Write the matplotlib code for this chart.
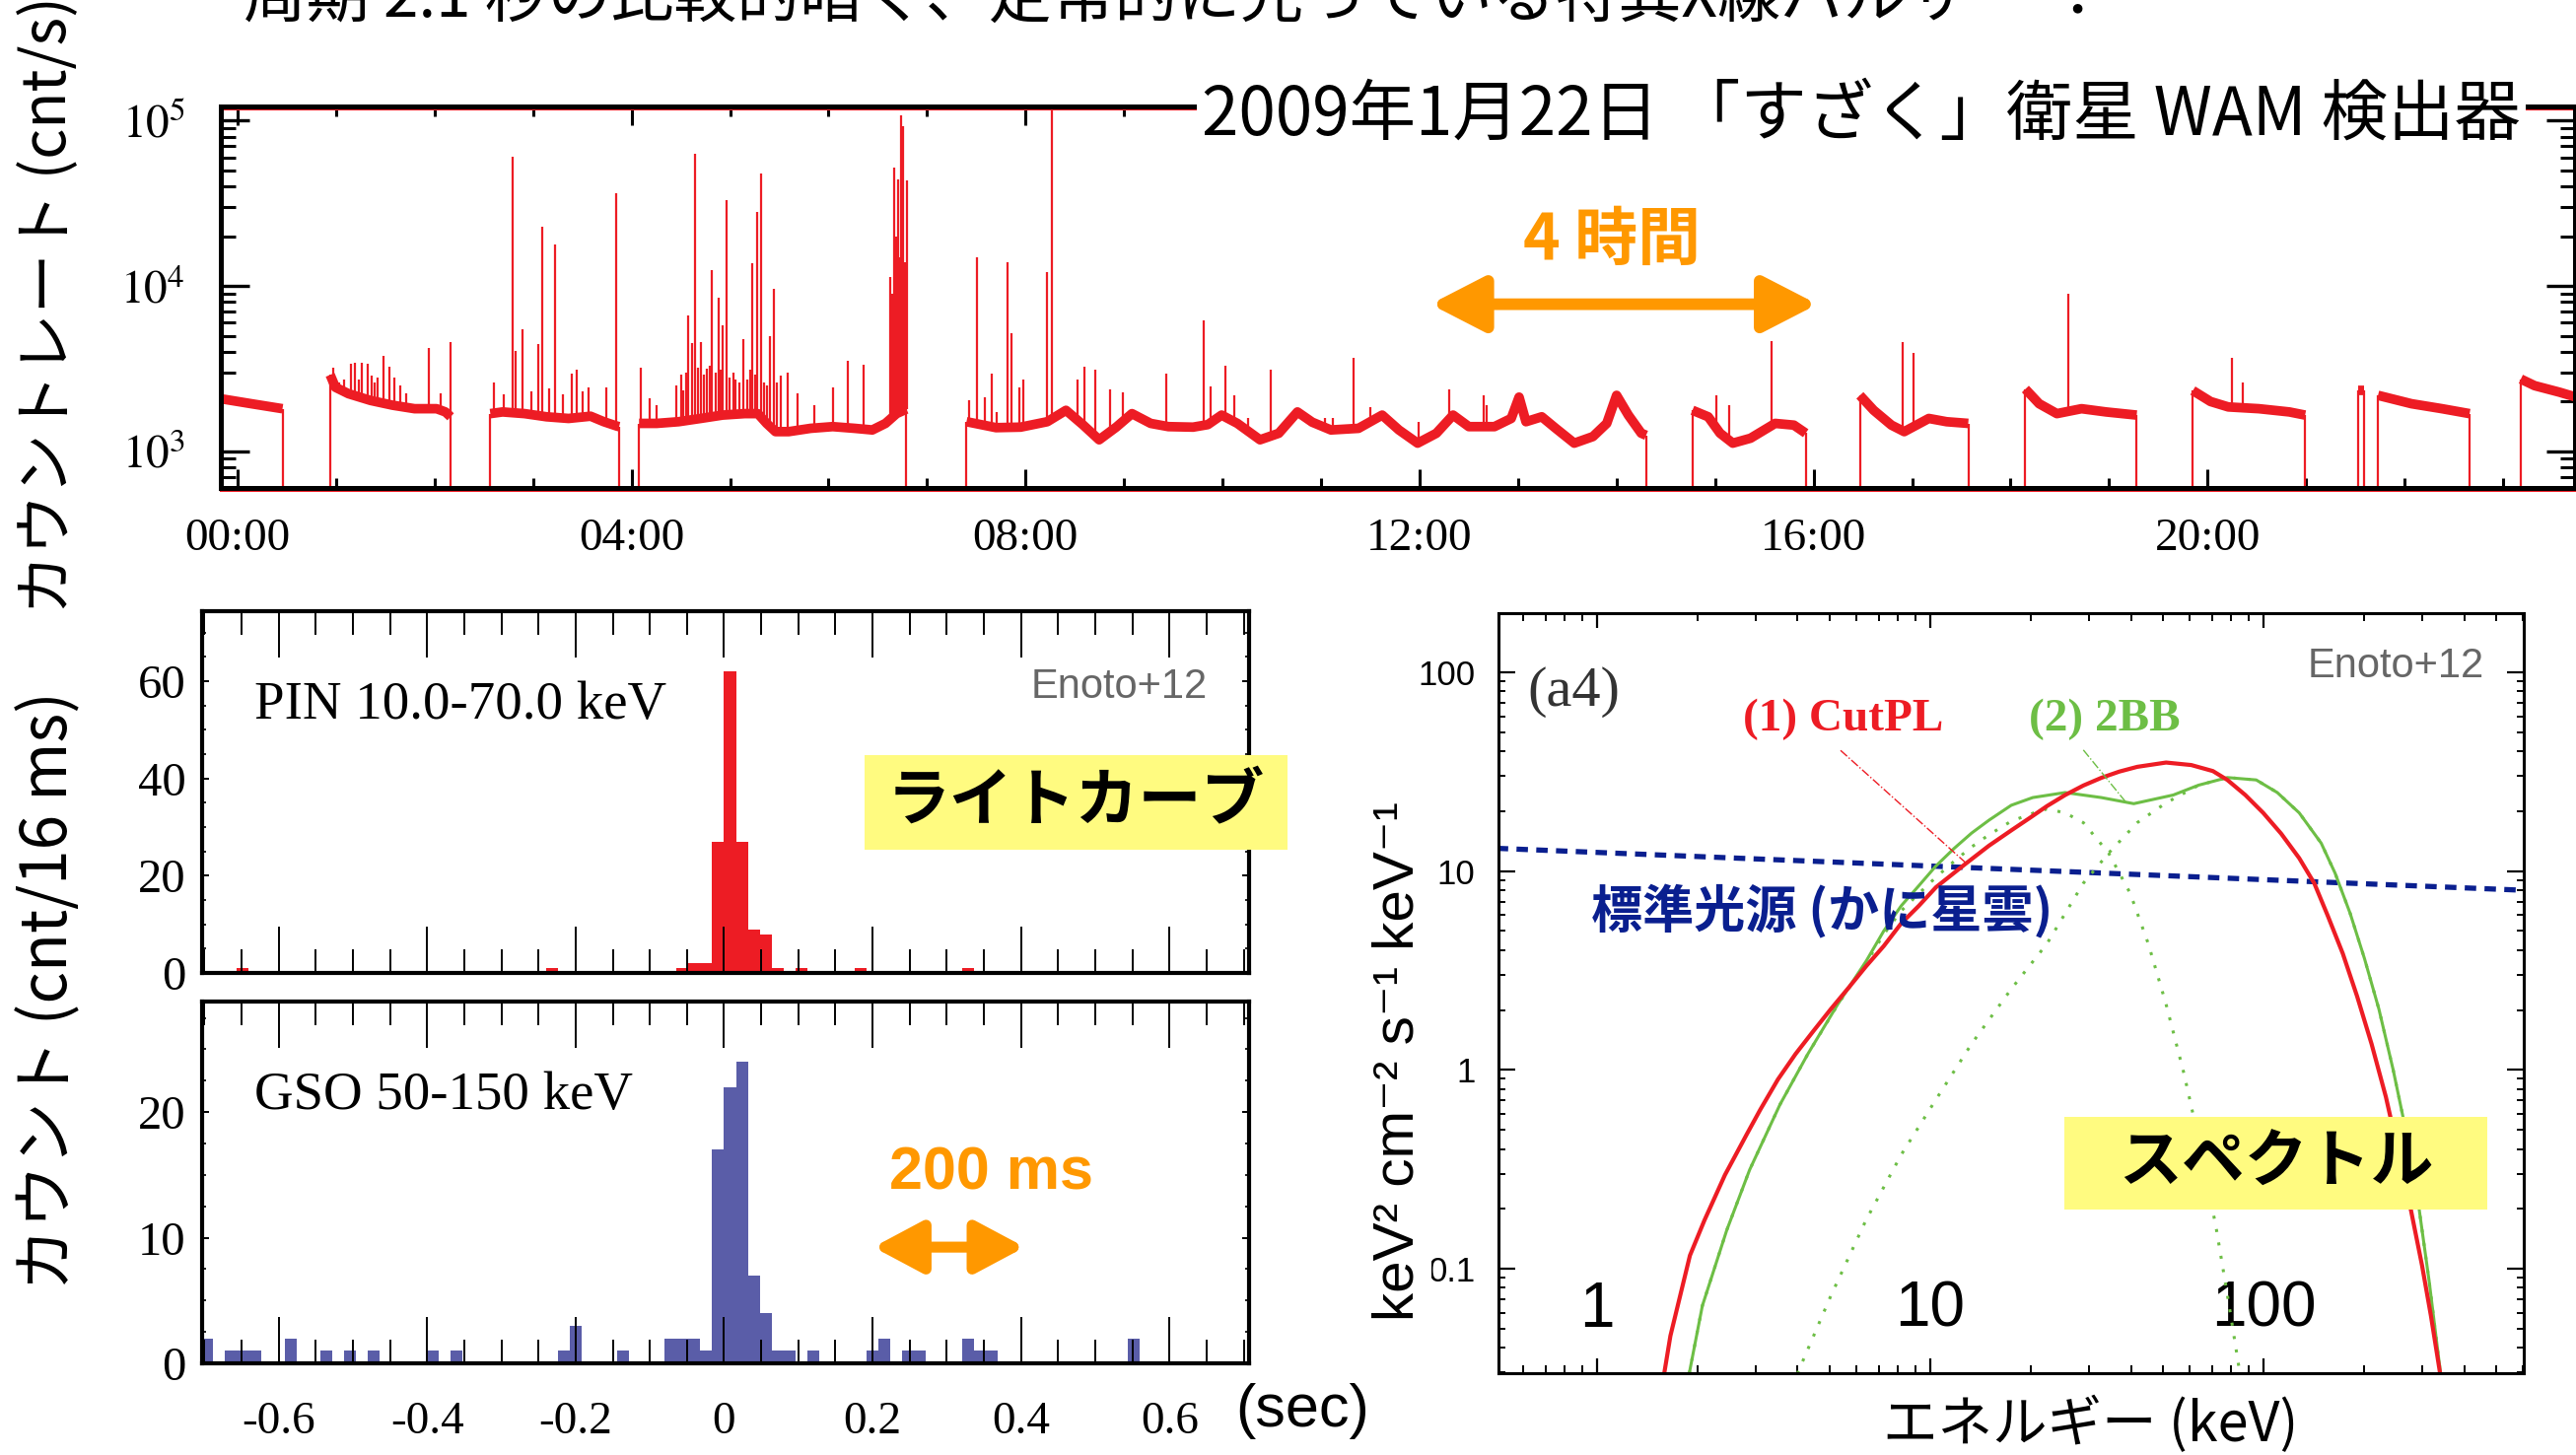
import matplotlib
matplotlib.use("Agg")
import matplotlib.pyplot as plt
import numpy as np
from matplotlib.patches import Rectangle
from matplotlib.ticker import FixedLocator, FuncFormatter, MultipleLocator, NullFormatter

# ---------------------------------------------------------------------------
# Fonts / colours
# ---------------------------------------------------------------------------
plt.rcParams["mathtext.fontset"] = "stix"
plt.rcParams["font.family"] = ["Liberation Serif", "DejaVu Serif"]

JP = ["Noto Sans CJK JP", "DejaVu Sans"]
SANS = ["Liberation Sans", "DejaVu Sans"]
SERIF = ["Liberation Serif", "DejaVu Serif"]

RED = "#ED1C24"
BLUE = "#5A5DA8"
GREEN = "#6DBE45"
NAVY = "#0A1F8F"
ORANGE = "#FF9800"
YELLOW = "#FFFB80"
GRAY = "#666666"

W, H = 2613, 1476

# ---------------------------------------------------------------------------
# WAM light curve, 2009-01-22 (hours since 00:00 UT)
# ---------------------------------------------------------------------------
seg_start = [-0.17, 0.94, 2.566, 4.076, 7.40, 14.77, 16.47, 18.15, 19.85, 21.53, 21.73, 23.18]
seg_end = [0.456, 2.163, 3.874, 6.79, 14.30, 15.92, 17.57, 19.28, 20.99, 21.59, 22.66, 23.74]

base_t = np.array([
    -0.17, 0.14, 0.456,
    0.94, 0.993, 1.126, 1.35, 1.574, 1.797, 2.02, 2.11, 2.163,
    2.566, 2.69, 2.914, 3.137, 3.36, 3.584, 3.718, 3.852, 3.874,
    4.076, 4.255, 4.478, 4.701, 4.925, 5.148, 5.282, 5.371, 5.461, 5.595, 5.818,
    6.042, 6.265, 6.444, 6.578, 6.69, 6.79,
    7.40, 7.70, 7.95, 8.22, 8.41, 8.58, 8.747, 8.92, 9.08, 9.27, 9.45, 9.70, 9.85,
    9.99, 10.15, 10.38, 10.57, 10.76, 10.91, 11.10, 11.38, 11.62, 11.79, 11.98,
    12.17, 12.34, 12.50, 12.76, 12.93, 13.01, 13.08, 13.24, 13.38, 13.57, 13.76,
    13.90, 14.00, 14.12, 14.25, 14.30,
    14.77, 14.93, 15.05, 15.18, 15.36, 15.61, 15.80, 15.92,
    16.47, 16.61, 16.79, 16.92, 17.17, 17.35, 17.57,
    18.15, 18.29, 18.47, 18.72, 18.97, 19.28,
    19.85, 20.03, 20.21, 20.52, 20.83, 20.99,
    21.53, 21.59,
    21.73, 22.07, 22.38, 22.66,
    23.18, 23.32, 23.57, 23.74,
])
base_rate = np.array([
    2080, 1940, 1810,
    2900, 2440, 2230, 2030, 1900, 1810, 1810, 1730, 1617,
    1690, 1730, 1690, 1617, 1580, 1630, 1510, 1420, 1410,
    1475, 1475, 1510, 1580, 1656, 1690, 1690, 1475, 1315, 1315, 1377,
    1410, 1377, 1346, 1475, 1690, 1800,
    1510, 1390, 1400, 1510, 1770, 1450, 1174, 1400, 1690, 1475, 1410, 1400, 1450,
    1656, 1475, 1174, 1285, 1730, 1500, 1346, 1377, 1656, 1346, 1120,
    1285, 1656, 1410, 1410, 1580, 2127, 1510, 1617, 1380, 1120, 1228,
    1475, 2180, 1653, 1287, 1250,
    1771, 1617, 1287, 1120, 1200, 1475, 1440, 1287,
    2180, 1771, 1440, 1315, 1580, 1510, 1475,
    2380, 1940, 1690, 1810, 1730, 1656,
    2330, 2000, 1855, 1810, 1730, 1656,
    2330, 2330,
    2180, 1940, 1810, 1690,
    2735, 2495, 2280, 2127,
])

spike_t = [
    0.970, 1.03, 1.08, 1.149, 1.193, 1.23, 1.261, 1.319, 1.359, 1.39, 1.421, 1.484,
    1.538, 1.596, 1.65, 1.716, 1.944, 2.065, 2.163,
    2.601, 2.70, 2.789, 2.824, 2.896, 2.98, 3.048, 3.097, 3.16, 3.222, 3.30, 3.397,
    3.446, 3.50, 3.562, 3.741, 3.843,
    4.089, 4.188, 4.255, 4.45, 4.50, 4.523, 4.55, 4.577, 4.612, 4.648, 4.67, 4.701,
    4.73, 4.768, 4.79, 4.818, 4.85, 4.88, 4.90, 4.925, 4.961, 4.99, 5.03, 5.059,
    5.09, 5.139, 5.17, 5.20, 5.229, 5.25, 5.273, 5.31, 5.34, 5.37, 5.408, 5.44,
    5.47, 5.515, 5.586, 5.684, 5.854, 6.05, 6.198, 6.355, 6.623, 6.645, 6.668,
    6.69, 6.704, 6.72, 6.735, 6.75, 6.76, 6.775, 6.794,
    7.43, 7.502, 7.588, 7.655, 7.708, 7.814, 7.861, 7.933, 7.981, 8.22, 8.268,
    8.531, 8.594, 8.709, 8.853, 8.987, 9.431, 9.81, 9.877, 10.03, 10.12, 10.26,
    10.49, 11.04, 11.12, 11.33, 11.50, 11.99, 12.30, 12.65, 12.68,
    15.01, 15.14, 15.57,
    16.90, 17.01,
    18.585,
    20.25, 20.36,
]
spike_peak = [
    3190, 2600, 2700, 3390, 3435, 2700, 3435, 3390, 2865, 2600, 2800, 3770,
    3240, 2800, 2500, 2230, 4230, 2230, 4580,
    2610, 2200, 60500, 4040, 5510, 2300, 4470, 22700, 2400, 17900, 2200, 2960,
    3100, 2300, 2440, 2440, 36200,
    3210, 2080, 1900, 2500, 2900, 2330, 3000, 6610, 4530, 63300, 3200, 4580,
    2900, 3140, 3300, 12560, 3000, 8470, 3100, 5820, 33200, 2800, 3000, 2735,
    2600, 4800, 2700, 3100, 13700, 2900, 28200, 48200, 2600, 2500, 4950, 9550,
    2600, 2865, 3000, 2230, 1900, 2440, 3520, 3330, 11400, 9000, 52200,
    20000, 44000, 15000, 107700, 30000, 92700, 14000, 43600,
    2030, 14900, 2110, 2960, 1730, 13900, 5190, 2440, 2710, 12100, 118000,
    2700, 3240, 3100, 2380, 2280, 2960, 6210, 2460, 3280, 2180, 1580,
    3130, 1580, 1580, 3680, 1855, 1510, 2380, 2180, 1900,
    2180, 1900, 4630,
    4590, 3950,
    8920,
    3680, 2600,
]

hour_ticks = [0, 4, 8, 12, 16, 20]
hour_labels = ["00:00", "04:00", "08:00", "12:00", "16:00", "20:00"]

# ---------------------------------------------------------------------------
# Burst light curves (16 ms bins, index k -> [k*BIN, (k+1)*BIN) seconds)
# ---------------------------------------------------------------------------
BIN = 0.016
pin_bin = [-41, -15, -4, -3, -2, -1, 0, 1, 2, 3, 4, 6, 11, 20]
pin_cnt = [1, 1, 1, 2, 2, 27, 62, 27, 9, 8, 1, 1, 1, 1]

gso_bin = [-44, -42, -41, -40, -37, -34, -32, -30, -25, -23, -14, -13, -9,
           -5, -4, -3, -2, -1, 0, 1, 2, 3, 4, 5, 7, 12, 13, 15, 16, 20, 21, 22, 34]
gso_cnt = [2, 1, 1, 1, 2, 1, 1, 1, 1, 1, 1, 3, 1,
           2, 2, 2, 1, 17, 22, 24, 7, 4, 1, 1, 1, 1, 2, 1, 1, 2, 1, 1, 2]

# ---------------------------------------------------------------------------
# Burst spectrum models, keV^2 cm^-2 s^-1 keV^-1
# ---------------------------------------------------------------------------
cutpl_e = [1.59, 1.66, 1.90, 2.10, 2.42, 2.81, 3.09, 3.49, 3.94, 4.45, 5.03, 5.68,
           6.42, 7.25, 8.18, 9.24, 10.4, 12.7, 15.0, 17.5, 20.0, 22.4, 25.4, 28.8,
           32.6, 36.9, 41.8, 51.0, 60.7, 70.5, 77.9, 88.2, 99.8, 113, 128, 142,
           156, 173, 191, 211, 233, 257, 277, 299, 318, 339]
cutpl_f = [0.0296, 0.0459, 0.1165, 0.175, 0.296, 0.472, 0.631, 0.895, 1.20, 1.56,
           2.02, 2.58, 3.32, 4.19, 5.45, 6.68, 8.28, 10.8, 13.4, 16.0, 18.6, 21.2,
           24.1, 26.9, 29.4, 31.6, 33.4, 35.1, 34.1, 31.8, 28.7, 24.1, 19.6, 15.4,
           11.6, 8.68, 5.94, 3.84, 2.34, 1.35, 0.730, 0.352, 0.197, 0.104, 0.058,
           0.0296]

bb2_tot_e = [1.89, 2.07, 2.45, 2.87, 3.54, 4.29, 5.28, 6.42, 7.25, 8.18, 9.24,
             10.4, 11.8, 13.3, 15.0, 17.5, 20.3, 25.4, 32.6, 40.8, 53.6, 63.8,
             77.9, 95.1, 110, 128, 149, 164, 182, 201, 222, 245, 271, 292, 314, 340]
bb2_tot_f = [0.0296, 0.065, 0.156, 0.314, 0.669, 1.20, 2.14, 3.52, 4.99, 6.68,
             8.43, 10.6, 13.0, 15.5, 18.0, 21.4, 23.4, 24.8, 23.4, 21.8, 24.1,
             27.0, 29.5, 28.7, 24.8, 19.6, 13.8, 9.75, 6.12, 3.62, 2.02, 1.0,
             0.445, 0.209, 0.087, 0.0296]

bb_low_e = [1.89, 2.07, 2.45, 2.87, 3.54, 4.29, 5.28, 6.42, 7.25, 8.18, 9.24, 10.4,
            11.8, 13.3, 15.0, 17.5, 20.3, 22.4, 25.4, 28.8, 34.3, 39.8, 45.1, 51.0,
            57.8, 65.4, 72.3, 78.9, 85.0]
bb_low_f = [0.0296, 0.065, 0.156, 0.314, 0.669, 1.20, 2.13, 3.45, 4.8, 6.3, 7.7, 9.3,
            11.2, 13.2, 15.2, 17.8, 19.5, 20.5, 19.6, 17.5, 12.3, 7.73, 4.31, 2.14,
            0.949, 0.374, 0.156, 0.065, 0.0296]

bb_high_e = [3.99, 5.03, 6.41, 8.18, 10.4, 13.3, 17.5, 22.4, 28.8, 34.3, 41.8, 51.0,
             63.9, 78.0, 95.1, 110, 128, 149, 164, 182, 201, 222, 245, 271, 292, 314, 340]
bb_high_f = [0.0296, 0.073, 0.175, 0.374, 0.709, 1.35, 2.55, 4.31, 8.68, 12.3, 17.5,
             22.0, 27.0, 29.5, 28.7, 24.8, 19.6, 13.8, 9.75, 6.12, 3.62, 2.02, 1.0,
             0.445, 0.209, 0.087, 0.0296]

# Crab nebula reference spectrum (end points across the band)
crab_e = [0.5, 600]
crab_f = [13.0, 8.0]


def fx(px):
    return px / W


def fy(py):
    return 1 - py / H


def ax_rect(left, top, right, bottom):
    return [fx(left), fy(bottom), (right - left) / W, (bottom - top) / H]


fig = plt.figure(figsize=(W / 100, H / 100), dpi=100)

# ---------------------------------------------------------------------------
# Top: long-term light curve
# ---------------------------------------------------------------------------
ax = fig.add_axes(ax_rect(224, 108, 2612, 495))
ax.set_yscale("log")
ax.set_xlim(-0.17, 23.73)
ax.set_ylim(600, 1.22e5)

floor = 300.0
for s, e in zip(seg_start, seg_end):
    m = (base_t >= s - 1e-6) & (base_t <= e + 1e-6)
    t, r = base_t[m], base_rate[m]
    ax.vlines([s, e], floor, [r[0], r[-1]], color=RED, lw=1.6)
    ax.plot(t, r, color=RED, lw=7, solid_joinstyle="round", solid_capstyle="butt")

spike_base = np.interp(spike_t, base_t, base_rate)
ax.vlines(spike_t, spike_base, spike_peak, color=RED, lw=1.6)

# red frame line running just inside the black frame
ax.plot([0, 1], [0.991, 0.991], transform=ax.transAxes, color=RED, lw=1.5, clip_on=False)
ax.plot([0, 1], [-0.008, -0.008], transform=ax.transAxes, color=RED, lw=1.5, clip_on=False)

for sp in ax.spines.values():
    sp.set_linewidth(3.6)
ax.xaxis.set_major_locator(FixedLocator(hour_ticks))
ax.set_xticklabels(hour_labels)
ax.xaxis.set_minor_locator(MultipleLocator(1))
ax.set_yticks([1e3, 1e4, 1e5])
ax.set_yticklabels([r"$10^{3}$", r"$10^{4}$", r"$10^{5}$"])
ax.yaxis.set_minor_formatter(NullFormatter())
ax.tick_params(axis="x", which="major", direction="in", length=14, width=2.2,
               top=True, bottom=True, labelsize=34, pad=22)
ax.tick_params(axis="x", which="minor", direction="in", length=7, width=2.2,
               top=True, bottom=True)
ax.tick_params(axis="y", which="major", direction="in", length=21, width=2.4,
               left=True, right=True, labelsize=34, pad=26)
ax.tick_params(axis="y", which="minor", direction="in", length=11, width=2.2,
               left=True, right=True)

# 4 hour period marker
ax.annotate("", xy=(16.04, 7760), xytext=(12.11, 7760),
            arrowprops=dict(arrowstyle="<|-|>,head_length=3.3,head_width=1.7",
                            mutation_scale=10, lw=8.5, color=ORANGE,
                            shrinkA=0, shrinkB=0))
ax.text(13.95, 18800, "4 時間", color=ORANGE, fontsize=46, fontweight="bold",
        family=JP, ha="center", va="center")

fig.text(fx(1219), fy(118), "2009年1月22日 「すざく」衛星 WAM 検出器", family=JP,
         fontsize=48.5, ha="left", va="center", zorder=5,
         bbox=dict(facecolor="white", edgecolor="none", pad=4))
fig.text(fx(247), fy(18), "周期 2.1 秒の比較的暗く、定常的に光っている特異X線パルサー ：",
         family=JP, fontsize=46, ha="left", va="baseline")
fig.text(fx(50), fy(310), "カウントレート (cnt/s)", family=JP, fontsize=44,
         rotation=90, ha="center", va="center")

# ---------------------------------------------------------------------------
# Bottom left: burst light curves
# ---------------------------------------------------------------------------
ax_pin = fig.add_axes(ax_rect(205, 620, 1267, 987))
ax_gso = fig.add_axes(ax_rect(205, 1016, 1267, 1383))

ax_pin.bar(np.array(pin_bin) * BIN, pin_cnt, width=BIN, align="edge", color=RED, lw=0)
ax_gso.bar(np.array(gso_bin) * BIN, gso_cnt, width=BIN, align="edge", color=BLUE, lw=0)

ax_pin.set_ylim(0, 74.4)
ax_gso.set_ylim(0, 28.8)
ax_pin.yaxis.set_major_locator(MultipleLocator(20))
ax_pin.yaxis.set_minor_locator(MultipleLocator(5))
ax_gso.yaxis.set_major_locator(MultipleLocator(10))
ax_gso.yaxis.set_minor_locator(MultipleLocator(2.5))

sec_fmt = FuncFormatter(lambda v, pos: f"{round(v, 1) + 0.0:g}")
for a in (ax_pin, ax_gso):
    a.set_xlim(-0.703, 0.707)
    a.xaxis.set_major_locator(MultipleLocator(0.2))
    a.xaxis.set_minor_locator(MultipleLocator(0.05))
    a.xaxis.set_major_formatter(sec_fmt)
    for sp in a.spines.values():
        sp.set_linewidth(3)
    a.tick_params(axis="x", which="major", direction="in", length=34, width=1.4,
                  top=True, bottom=True, labelsize=34, pad=28)
    a.tick_params(axis="x", which="minor", direction="in", length=17, width=1.4,
                  top=True, bottom=True)
    a.tick_params(axis="y", which="major", direction="in", length=5, width=1.4,
                  left=True, right=True, labelsize=35, pad=12)
    a.tick_params(axis="y", which="minor", direction="in", length=3, width=1.2,
                  left=True, right=True)
ax_pin.tick_params(axis="x", labelbottom=False)

ax_pin.text(0.05, 0.74, "PIN 10.0-70.0 keV", transform=ax_pin.transAxes,
            fontsize=39.5, ha="left", va="center")
ax_gso.text(0.05, 0.74, "GSO 50-150 keV", transform=ax_gso.transAxes,
            fontsize=39.5, ha="left", va="center")
fig.text(fx(1225), fy(697), "Enoto+12", family=SANS, fontsize=30, color=GRAY,
         ha="right", va="center")

ax_gso.annotate("", xy=(0.405, 9.25), xytext=(0.201, 9.25),
                arrowprops=dict(arrowstyle="<|-|>,head_length=3.0,head_width=1.6",
                                mutation_scale=10, lw=8, color=ORANGE,
                                shrinkA=0, shrinkB=0))
ax_gso.text(0.36, 15.06, "200 ms", color=ORANGE, fontsize=44, fontweight="bold",
            family=SANS, ha="center", va="center")

fig.text(fx(1321), fy(1432), "(sec)", family=SANS, fontsize=44, ha="center", va="center")
fig.text(fx(50), fy(1005), "カウント (cnt/16 ms)", family=JP, fontsize=46,
         rotation=90, ha="center", va="center")

fig.patches.append(Rectangle((fx(877), fy(862)), (1306 - 877) / W, (862 - 766) / H,
                             transform=fig.transFigure, facecolor=YELLOW,
                             edgecolor="none", zorder=4))
fig.text(fx(1091), fy(814), "ライトカーブ", family=JP, fontsize=46,
         fontweight="bold", ha="center", va="center", zorder=5)

# ---------------------------------------------------------------------------
# Bottom right: spectrum
# ---------------------------------------------------------------------------
axs = fig.add_axes(ax_rect(1520, 622, 2560, 1393))
axs.set_xscale("log")
axs.set_yscale("log")
axs.set_xlim(0.506, 604)
axs.set_ylim(0.0298, 198)

axs.plot(crab_e, crab_f, color=NAVY, lw=3.8, linestyle=(0, (2.2, 1.6)))
axs.plot(bb_low_e, bb_low_f, color=GREEN, lw=2.2, linestyle=(0, (1, 3.5)))
axs.plot(bb_high_e, bb_high_f, color=GREEN, lw=2.2, linestyle=(0, (1, 3.5)))
axs.plot(bb2_tot_e, bb2_tot_f, color=GREEN, lw=2.2)
axs.plot(cutpl_e, cutpl_f, color=RED, lw=3.0)

axs.plot([5.38, 12.8], [40.4, 10.96], color=RED, lw=1.0, linestyle="-.")
axs.plot([28.8, 38.8], [40.6, 22.0], color=GREEN, lw=1.0, linestyle="-.")

for sp in axs.spines.values():
    sp.set_linewidth(2.2)
axs.set_xticks([1, 10, 100])
axs.set_xticklabels(["1", "10", "100"])
axs.set_yticks([0.1, 1, 10, 100])
axs.set_yticklabels(["0.1", "1", "10", "100"])
axs.xaxis.set_minor_formatter(NullFormatter())
axs.yaxis.set_minor_formatter(NullFormatter())
axs.tick_params(axis="x", which="major", direction="in", length=11, width=1.6,
                top=True, bottom=True, labelsize=46, pad=-68)
axs.tick_params(axis="x", which="minor", direction="in", length=6, width=1.4,
                top=True, bottom=True)
axs.tick_params(axis="y", which="major", direction="in", length=12, width=1.6,
                left=True, right=True, labelsize=25, pad=17)
axs.tick_params(axis="y", which="minor", direction="in", length=5, width=1.4,
                left=True, right=True)
plt.setp(axs.get_xticklabels() + axs.get_yticklabels(), family=SANS)

fig.text(fx(1549), fy(702), "(a4)", fontsize=42, color="#333333", ha="left", va="center")
fig.text(fx(1768), fy(730), "(1) CutPL", fontsize=34, fontweight="bold", color=RED,
         ha="left", va="center")
fig.text(fx(2058), fy(730), "(2) 2BB", fontsize=34, fontweight="bold", color=GREEN,
         ha="left", va="center")
fig.text(fx(2520), fy(676), "Enoto+12", family=SANS, fontsize=30, color=GRAY,
         ha="right", va="center")
fig.text(fx(1614), fy(925), "標準光源 (かに星雲)", family=JP, fontsize=37.5,
         fontweight="bold", color=NAVY, ha="left", va="center")

fig.patches.append(Rectangle((fx(2094), fy(1227)), (2523 - 2094) / W, (1227 - 1133) / H,
                             transform=fig.transFigure, facecolor=YELLOW,
                             edgecolor="none", zorder=4))
fig.text(fx(2309), fy(1180), "スペクトル", family=JP, fontsize=46,
         fontweight="bold", ha="center", va="center", zorder=5)

fig.text(fx(1419), fy(1077), "keV² cm⁻² s⁻¹ keV⁻¹", family=SANS, fontsize=42,
         rotation=90, ha="center", va="center",
         bbox=dict(facecolor="white", edgecolor="none", pad=4))
fig.text(fx(2121), fy(1446), "エネルギー (keV)", family=JP, fontsize=40,
         ha="center", va="center")

fig.savefig("out.png", dpi=100)
